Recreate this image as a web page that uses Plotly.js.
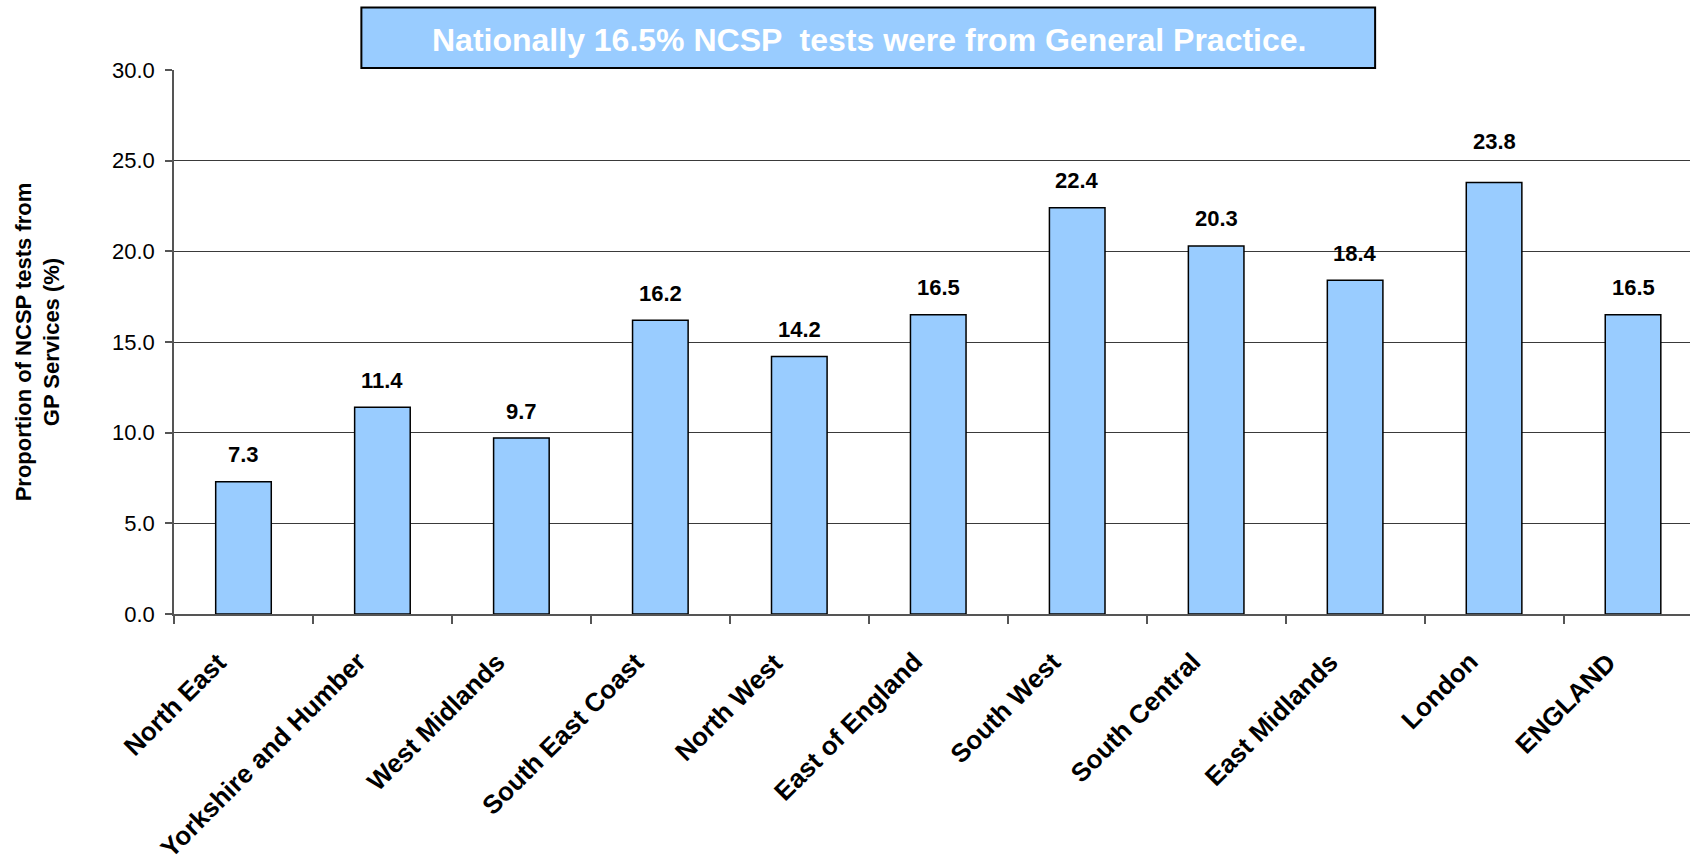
<!DOCTYPE html>
<html>
<head>
<meta charset="utf-8">
<script src="https://cdn.plot.ly/plotly-3.0.1.min.js"></script>
<style>
  html, body { margin: 0; padding: 0; background: #ffffff; }
  #chart { width: 1690px; height: 860px; }
</style>
</head>
<body>
<div id="chart"></div>
<script>
// Regions (SHA) and share of NCSP tests from GP services
const regions = ['North East', 'Yorkshire and Humber', 'West Midlands', 'South East Coast',
    'North West', 'East of England', 'South West', 'South Central', 'East Midlands',
    'London', 'ENGLAND'];
const gpShare = [7.3, 11.4, 9.7, 16.2, 14.2, 16.5, 22.4, 20.3, 18.4, 23.8, 16.5];
const yTicks = [0, 5, 10, 15, 20, 25, 30];
const yTickLabels = ['0.0', '5.0', '10.0', '15.0', '20.0', '25.0', '30.0'];
const headline = 'Nationally 16.5% NCSP  tests were from General Practice.';
const yTitle = 'Proportion of NCSP tests from<br>GP Services (%)';

const FONT = 'Liberation Sans, Arial, Helvetica, sans-serif';
const BAR_BLUE = '#99ccff';
const GRID = '#3a3a3a';

const trace = {
    type: 'bar',
    x: regions,
    y: gpShare,
    width: 0.4,
    marker: {
        color: BAR_BLUE,
        line: { color: '#000000', width: 1.5 }
    },
    hoverinfo: 'x+y'
};

// value labels above bars (London's label sits higher, as in the original)
const valueLabels = regions.map((r, i) => ({
    x: r,
    y: gpShare[i],
    xref: 'x',
    yref: 'y',
    text: gpShare[i].toFixed(1),
    showarrow: false,
    yanchor: 'middle',
    yshift: r === 'London' ? 41 : 27,
    font: { family: FONT, size: 22, color: '#000000', weight: 'bold' }
}));

// slanted category labels, hung just left of each category centre
const categoryLabels = regions.map(r => ({
    x: r,
    y: 0,
    xref: 'x',
    yref: 'paper',
    text: r,
    textangle: -45,
    showarrow: false,
    xanchor: 'right',
    yanchor: 'top',
    xshift: -8,
    yshift: -30,
    font: { family: FONT, size: 26, color: '#000000', weight: 'bold' }
}));

const layout = {
    width: 1690,
    height: 860,
    margin: { t: 70, r: 0, b: 246, l: 173.5, pad: 0 },
    paper_bgcolor: '#ffffff',
    plot_bgcolor: '#ffffff',
    font: { family: FONT, color: '#000000' },
    showlegend: false,
    bargap: 0.6,
    xaxis: {
        type: 'category',
        range: [-0.5, 10.41],
        showgrid: false,
        zeroline: false,
        showline: true,
        linecolor: '#555555',
        linewidth: 1.5,
        ticks: 'outside',
        tickson: 'boundaries',
        ticklen: 8,
        tickcolor: '#555555',
        tickwidth: 1.5,
        showticklabels: false,
        fixedrange: true
    },
    yaxis: {
        range: [0, 30],
        tickvals: yTicks,
        ticktext: yTickLabels,
        showgrid: true,
        gridcolor: GRID,
        gridwidth: 1,
        zeroline: false,
        showline: true,
        linecolor: '#555555',
        linewidth: 1.5,
        ticks: 'outside',
        ticklen: 7,
        tickcolor: '#555555',
        tickwidth: 1.5,
        ticklabelstandoff: 6,
        tickfont: { family: FONT, size: 22, color: '#000000' },
        title: {
            text: yTitle,
            standoff: 46,
            font: { family: FONT, size: 22, color: '#000000', weight: 'bold' }
        },
        fixedrange: true
    },
    shapes: [{
        type: 'rect',
        xref: 'paper',
        yref: 'paper',
        x0: 0.1236,
        x1: 0.7923,
        y0: 1.0037,
        y1: 1.1149,
        fillcolor: BAR_BLUE,
        line: { color: '#000000', width: 2 },
        layer: 'above'
    }],
    annotations: valueLabels.concat(categoryLabels, [{
        xref: 'paper',
        yref: 'paper',
        x: 0.4586,
        y: 1.055,
        xanchor: 'center',
        yanchor: 'middle',
        text: headline,
        showarrow: false,
        font: { family: FONT, size: 32, color: '#ffffff', weight: 'bold' }
    }])
};

const config = {
    responsive: false,
    displayModeBar: false
};

Plotly.newPlot('chart', [trace], layout, config);
</script>
</body>
</html>
